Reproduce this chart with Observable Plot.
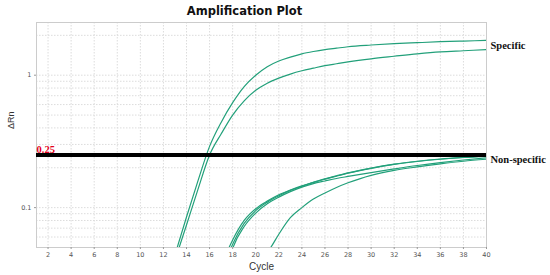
<!DOCTYPE html>
<html><head><meta charset="utf-8">
<script src="https://cdn.jsdelivr.net/npm/d3@7"></script>
<script src="https://cdn.jsdelivr.net/npm/@observablehq/plot@0.6"></script>
<style>body{margin:0;background:#fff}</style>
</head><body><div id="chart"></div>
<script>
const title = "Amplification Plot";
const xLabel = "Cycle";
const yLabel = "ΔRn";
const xTicks = [2,4,6,8,10,12,14,16,18,20,22,24,26,28,30,32,34,36,38,40];
const yTicks = [0.1, 1];
const yGridValues = [0.06,0.07,0.08,0.09,0.1,0.2,0.3,0.4,0.5,0.6,0.7,0.8,0.9,1,2];
const threshold = 0.25;

const specific1Cycles = [13,14,15,16,17,18,19,20,21,22,23,24,25,26,27,28,30,32,34,36,38,40];
const specific1Values = [0.044,0.085,0.16,0.29,0.44,0.62,0.82,1.00,1.16,1.28,1.37,1.45,1.51,1.56,1.60,1.64,1.69,1.73,1.76,1.79,1.81,1.83];
const specific2Cycles = [13,14,15,16,17,18,19,20,21,22,23,24,25,26,27,28,30,32,34,36,38,40];
const specific2Values = [0.040,0.074,0.138,0.25,0.36,0.50,0.64,0.77,0.87,0.95,1.02,1.08,1.13,1.18,1.22,1.26,1.33,1.39,1.45,1.50,1.53,1.56];
const nonspec1Cycles = [17.5,18,19,20,21,22,23,24,25,26,27,28,30,32,34,36,38,40];
const nonspec1Values = [0.046,0.057,0.080,0.098,0.112,0.125,0.136,0.146,0.155,0.165,0.174,0.183,0.199,0.213,0.224,0.233,0.240,0.246];
const nonspec2Cycles = [17.7,18,19,20,21,22,23,24,25,26,27,28,30,32,34,36,38,40];
const nonspec2Values = [0.046,0.053,0.076,0.095,0.110,0.123,0.135,0.145,0.155,0.164,0.173,0.182,0.198,0.212,0.223,0.232,0.239,0.244];
const nonspec3Cycles = [17.9,18,19,20,21,22,23,24,25,26,27,28,30,32,34,36,38,40];
const nonspec3Values = [0.046,0.049,0.072,0.091,0.107,0.120,0.132,0.143,0.152,0.159,0.166,0.172,0.184,0.196,0.208,0.219,0.229,0.238];
const nonspec4Cycles = [21,21.3,22,23,24,25,26,27,28,29,30,32,34,36,38,40];
const nonspec4Values = [0.046,0.05,0.063,0.084,0.100,0.116,0.129,0.142,0.154,0.165,0.175,0.191,0.203,0.214,0.224,0.232];

const groupLabels = ["Specific", "Non-specific"];
const groupLabelValues = [1.68, 0.231];

const seriesList = [
  ["S1", specific1Cycles, specific1Values],
  ["S2", specific2Cycles, specific2Values],
  ["N1", nonspec1Cycles, nonspec1Values],
  ["N2", nonspec2Cycles, nonspec2Values],
  ["N3", nonspec3Cycles, nonspec3Values],
  ["N4", nonspec4Cycles, nonspec4Values]
];
const rows = seriesList.flatMap(([name, cs, vs]) => cs.map((c, i) => ({series: name, cycle: c, value: vs[i]})));
const labelRows = groupLabels.map((t, i) => ({text: t, value: groupLabelValues[i]}));

const chart = Plot.plot({
  width: 550, height: 275,
  marginLeft: 36, marginRight: 64, marginTop: 22, marginBottom: 28,
  style: {fontFamily: "DejaVu Sans, sans-serif", fontSize: "6.5px", background: "white", color: "#555"},
  x: {domain: [1, 40]},
  y: {type: "log", domain: [0.05, 2.5]},
  marks: [
    Plot.ruleX(xTicks, {stroke: "#dcdcdc", strokeDasharray: "1.5,1.5"}),
    Plot.ruleY(yGridValues, {stroke: "#dcdcdc", strokeDasharray: "1.5,1.5"}),
    Plot.frame({stroke: "#cccccc"}),
    Plot.axisX({ticks: xTicks, tickSize: 2, tickPadding: 3, label: null, stroke: "#999", fill: "#555"}),
    Plot.axisY({ticks: yTicks, tickFormat: d => String(d), tickSize: 2, tickPadding: 3, label: null, stroke: "#999", fill: "#555"}),
    Plot.line(rows, {x: "cycle", y: "value", z: "series", stroke: "#22a07a", strokeWidth: 1.2, curve: "monotone-x", clip: true}),
    Plot.ruleY([threshold], {stroke: "black", strokeWidth: 4}),
    Plot.text([threshold], {x: 1, y: d => d, text: d => d.toFixed(2), textAnchor: "start", lineAnchor: "bottom", dy: -2, fill: "#e3001b", fontWeight: "bold", fontFamily: "Liberation Serif, serif", fontSize: 10.5}),
    Plot.text(labelRows, {x: 40, y: "value", text: "text", textAnchor: "start", dx: 4, fill: "#111", fontWeight: "bold", fontFamily: "Liberation Serif, serif", fontSize: 10.5}),
    Plot.text([title], {frameAnchor: "top", text: d => d, dy: -11, dx: -17, lineAnchor: "middle", fontWeight: "bold", fontSize: 11.5, fill: "#111"}),
    Plot.text([xLabel], {frameAnchor: "bottom", text: d => d, dy: 19, lineAnchor: "middle", fontSize: 10, fontFamily: "Liberation Sans, Arial, sans-serif", fill: "#333"}),
    Plot.text([yLabel], {frameAnchor: "left", text: d => d, dx: -25, dy: -6, rotate: -90, lineAnchor: "middle", fontSize: 9, fontFamily: "Liberation Sans, Arial, sans-serif", fill: "#333"})
  ]
});
document.getElementById("chart").appendChild(chart);
</script>
</body></html>
